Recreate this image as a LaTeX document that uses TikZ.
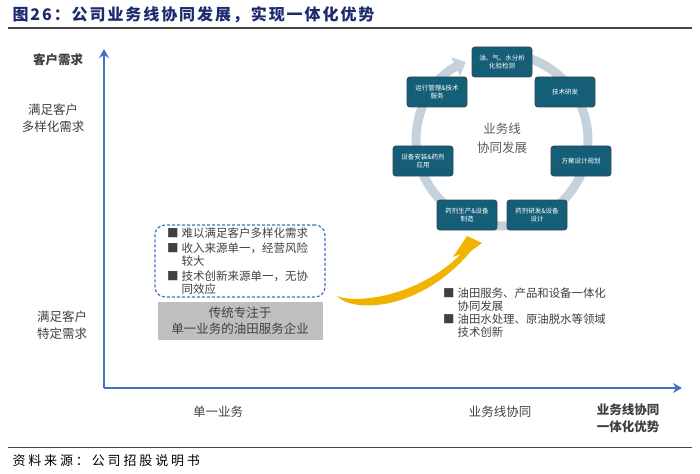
\documentclass[tikz,border=0pt]{standalone}
\usepackage{fontspec}
\setmainfont{Noto Sans CJK SC}
\usetikzlibrary{arrows.meta}
\definecolor{axisblue}{RGB}{68,114,196}
\definecolor{titlenavy}{RGB}{28,42,110}
\definecolor{boxteal}{RGB}{20,94,120}
\definecolor{boxedge}{RGB}{52,72,86}
\definecolor{ringcol}{RGB}{197,210,220}
\definecolor{labelgray}{RGB}{64,64,64}
\definecolor{centergray}{RGB}{90,90,90}
\definecolor{graybox}{RGB}{191,191,191}
\definecolor{arrowgold}{RGB}{240,180,0}
\definecolor{rulegray}{RGB}{70,70,70}
\newcommand{\bul}{■\hspace{3pt}}
\newcommand{\bulsp}{\hphantom{■\hspace{3pt}}}
\begin{document}
\begin{tikzpicture}[x=1pt,y=-1pt,
  stepbox/.style={draw=boxedge, fill=boxteal, rounded corners=3pt, line width=0.9pt,
    minimum width=60pt, minimum height=30pt, text=white, inner sep=1pt,
    font=\fontsize{6.5}{8}\selectfont, align=center},
  lbl/.style={text=labelgray, font=\fontsize{12.5}{16.5}\selectfont, align=center},
  axis/.style={draw=axisblue, line width=2pt},
  ring/.style={draw=ringcol, line width=9pt}]
\useasboundingbox (0,0) rectangle (700,473);
% title
\node[anchor=west, text=titlenavy, font=\fontsize{16}{18}\selectfont\bfseries\addfontfeature{LetterSpace=12}] (title) at (9,15) {图26：公司业务线协同发展，实现一体化优势};
\coordinate (tl) at (8,28); \coordinate (tr) at (692,28);
\draw[rulegray, line width=1.2pt] (tl) -- (tr);
\coordinate (bl) at (8,447); \coordinate (br) at (692,447);
\draw[rulegray, line width=1pt] (bl) -- (br);
\node[anchor=west, font=\fontsize{13}{15}\selectfont\addfontfeature{LetterSpace=22}] (source) at (9,461) {资料来源：公司招股说明书};
% axes
\coordinate (origin) at (104,388);
\coordinate (ytop) at (104,49);
\coordinate (xend) at (682,388);
\draw[axis, -{Stealth[length=9pt,width=10pt]}] (origin) -- (ytop);
\draw[axis, -{Stealth[length=9pt,width=10pt]}] (origin) -- (xend);
% axis labels
\node[lbl, font=\fontsize{12.5}{16}\selectfont\bfseries] (ylab) at (58,60) {客户需求};
\node[lbl] (ydiv) at (53,118) {满足客户\\多样化需求};
\node[lbl] (yspec) at (62,325) {满足客户\\特定需求};
\node[lbl] (xsingle) at (218,412) {单一业务};
\node[lbl] (xline) at (500,412) {业务线协同};
\node[lbl, font=\fontsize{12.5}{17}\selectfont\bfseries] (xlab) at (628,418) {业务线协同\\一体化优势};
% ring
\coordinate (rc) at (502,140);
\draw[ring, -{Triangle[width=20pt,length=11pt]}] (rc) ++(-90:86) arc[start angle=-90, end angle=245, radius=86];
\node[text=centergray, font=\fontsize{12.5}{19}\selectfont, align=center] (center) at (502,138) {业务线\\协同发展};
% step boxes
\node[stepbox] (s1) at (502,62) {油、气、水分析\\化验检测};
\node[stepbox] (s2) at (565,92) {技术研发};
\node[stepbox] (s3) at (581,161) {方案设计规划};
\node[stepbox] (s4) at (537,215) {药剂研发\&设备\\设计};
\node[stepbox] (s5) at (467,215) {药剂生产\&设备\\制造};
\node[stepbox] (s6) at (423,161) {设备安装\&药剂\\应用};
\node[stepbox] (s7) at (437,92) {运行管理\&技术\\服务};
% dashed box
\node[draw=axisblue, dash pattern=on 3pt off 2pt, line width=1.2pt, rounded corners=10pt,
  minimum width=170pt, minimum height=72pt] (dbox) at (240,261) {};
\node[anchor=west, align=left, text=labelgray, inner sep=0pt,
  font=\fontsize{11.5}{13}\selectfont] (dtext) at (167,261) {\bul 难以满足客户多样化需求\\[2pt]
\bul 收入来源单一，经营风险\\
\bulsp 较大\\[2pt]
\bul 技术创新来源单一，无协\\
\bulsp 同效应};
% gray box
\node[fill=graybox, minimum width=165pt, minimum height=38pt, text=labelgray, align=center,
  font=\fontsize{12.5}{16}\selectfont] (gbox) at (240,321) {传统专注于\\单一业务的油田服务企业};
% right bullets
\node[anchor=west, align=left, text=labelgray, inner sep=0pt,
  font=\fontsize{11.4}{13}\selectfont] (rtext) at (443,313) {\bul 油田服务、产品和设备一体化\\
\bulsp 协同发展\\
\bul 油田水处理、原油脱水等领域\\
\bulsp 技术创新};
% yellow curved arrow
\fill[arrowgold] (337,296) .. controls (352,313) and (420,312) .. (471,251)
  -- (482,243) -- (467,236) -- (453,257) -- (461,254)
  .. controls (418,297) and (356,304) .. (337,296) -- cycle;
\end{tikzpicture}
\end{document}
